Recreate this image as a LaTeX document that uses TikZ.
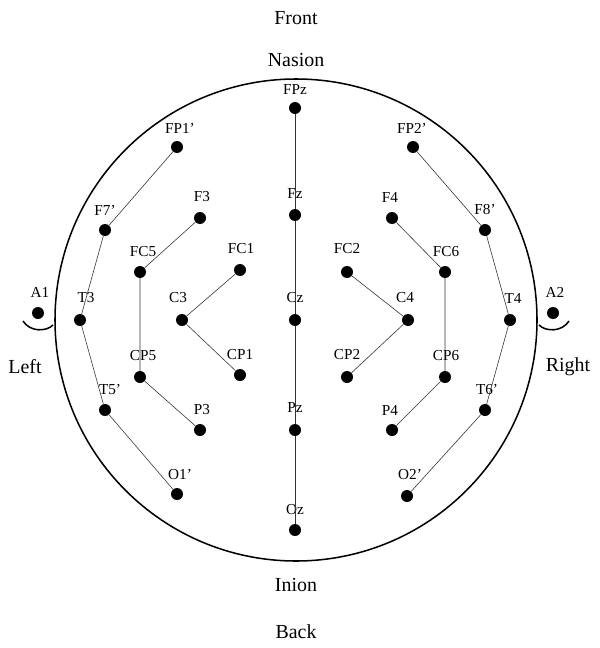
\documentclass[tikz,border=0pt]{standalone}
\usepackage{fontspec}
\setmainfont{Liberation Serif}
\begin{document}
\begin{tikzpicture}[x=0.03cm,y=-0.03cm,
 el/.style={circle,fill=black,inner sep=0pt,minimum size=0.36cm},
 lb/.style={font=\fontsize{13}{14}\selectfont},
 tt/.style={font=\fontsize{17}{19}\selectfont},
 ln/.style={black!80,line width=0.5pt}]
\useasboundingbox (0,0) rectangle (600,648);
\draw[line width=1.3pt] (296,320) circle (241);
\foreach \n/\x/\y in {
FPz/295/108, Fz/295/215, Cz/295/320, Pz/295/430, Oz/295/530,
FPa/177/147, Fa/105/230, T3/80/320, Ta/105/410, Oa/177/494,
F3/200/218, FC5/140/272, CP5/140/377, P3/200/430,
FC1/240/270, C3/182/320, CP1/240/375,
FPb/413/147, Fb/485/230, T4/510/320, Tb/485/410, Ob/407/496,
F4/392/218, FC6/445/272, CP6/445/377, P4/392/430,
FC2/347/272, C4/408/320, CP2/347/377,
A1/38/313, A2/553/313}
 \node[el] (\n) at (\x,\y) {};
\foreach \n/\t/\lx/\ly in {
FPz/FPz/295/90, Fz/Fz/295/194, Cz/Cz/295/298, Pz/Pz/295/408, Oz/Oz/295/510,
FPa/FP1'/180/128, Fa/F7'/105/210, T3/T3/86/298, Ta/T5'/110/390, Oa/O1'/180/475,
F3/F3/202/197, FC5/FC5/143/252, CP5/CP5/143/356, P3/P3/202/410,
FC1/FC1/241/249, C3/C3/178/298, CP1/CP1/240/355,
FPb/FP2'/412/128, Fb/F8'/485/210, T4/T4/513/298, Tb/T6'/487/390, Ob/O2'/410/475,
F4/F4/390/197, FC6/FC6/446/252, CP6/CP6/446/356, P4/P4/390/410,
FC2/FC2/347/249, C4/C4/405/298, CP2/CP2/347/355,
A1/A1/40/292, A2/A2/555/292}
 \node[lb] (l\n) at (\lx,\ly) {\t};
\draw[ln] (FPz)--(Fz)--(Cz)--(Pz)--(Oz);
\draw[ln] (FPa)--(Fa)--(T3)--(Ta)--(Oa);
\draw[ln] (FPb)--(Fb)--(T4)--(Tb)--(Ob);
\draw[ln] (F3)--(FC5)--(CP5)--(P3);
\draw[ln] (F4)--(FC6)--(CP6)--(P4);
\draw[ln] (FC1)--(C3)--(CP1);
\draw[ln] (FC2)--(C4)--(CP2);
\draw[line width=1.3pt] (23,321) .. controls (30,332) and (46,332) .. (53,325);
\draw[line width=1.3pt] (539,325) .. controls (546,332) and (562,332) .. (569,321);
\node[tt] (front) at (296,18) {Front};
\node[tt] (nasion) at (296,60) {Nasion};
\node[tt] (inion) at (296,585) {Inion};
\node[tt] (back) at (296,632) {Back};
\node[tt] (left) at (25,367) {Left};
\node[tt] (right) at (568,367) {Right};
\end{tikzpicture}
\end{document}
